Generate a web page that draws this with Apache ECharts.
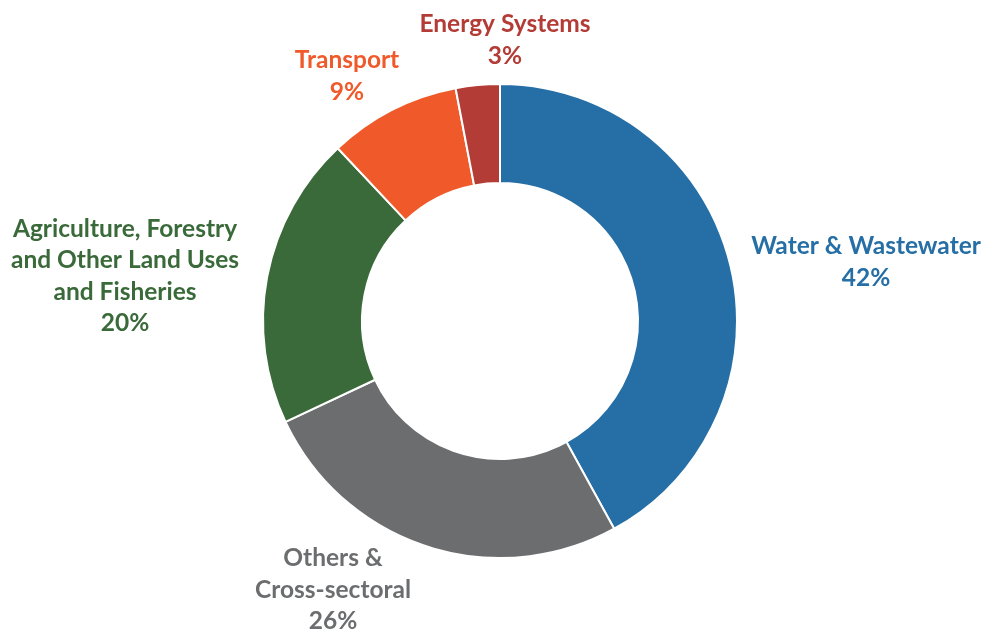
<!DOCTYPE html>
<html>
<head>
<meta charset="utf-8">
<script src="https://cdn.jsdelivr.net/npm/echarts@6/dist/echarts.min.js"></script>
<style>
  html, body { margin: 0; padding: 0; background: #ffffff; }
  #chart { width: 984px; height: 631px; }
</style>
</head>
<body>
<div id="chart"></div>
<script>
// Sector shares, clockwise from twelve o'clock
const sectors = [
  'Water & Wastewater',
  'Others &\nCross-sectoral',
  'Agriculture, Forestry\nand Other Land Uses\nand Fisheries',
  'Transport',
  'Energy Systems'
];
const shares = [42, 26, 20, 9, 3];
const colors = ['#266fa6', '#6c6d6f', '#3a6a39', '#f05a2a', '#b33c36'];

// Label anchor points (centre of each text block)
const labelAnchors = [
  [866, 262],
  [333, 590],
  [125, 276],
  [347, 76],
  [505, 40]
];

const chart = echarts.init(document.getElementById('chart'), null, { renderer: 'canvas' });

chart.setOption({
  animation: false,
  series: [{
    type: 'pie',
    center: [500, 321],
    radius: [138, 237],
    startAngle: 90,
    clockwise: true,
    avoidLabelOverlap: false,
    itemStyle: { borderColor: '#ffffff', borderWidth: 2 },
    labelLine: { show: false },
    label: {
      show: true,
      position: 'outside',
      formatter: p => p.name + '\n' + p.value + '%',
      fontFamily: 'Lato',
      fontWeight: 'bold',
      fontSize: 24.5,
      lineHeight: 31.5,
      align: 'center'
    },
    labelLayout: p => ({
      x: labelAnchors[p.dataIndex][0],
      y: labelAnchors[p.dataIndex][1],
      align: 'center',
      verticalAlign: 'middle'
    }),
    data: sectors.map((name, i) => ({
      name: name,
      value: shares[i],
      itemStyle: { color: colors[i] },
      label: { color: colors[i] }
    }))
  }]
});
</script>
</body>
</html>
